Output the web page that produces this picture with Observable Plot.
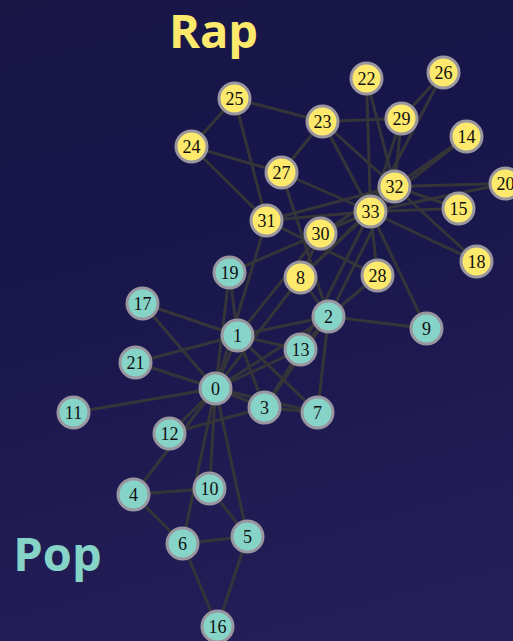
<!DOCTYPE html>
<html>
<head>
<meta charset="utf-8">
<script src="https://cdn.jsdelivr.net/npm/d3@7"></script>
<script src="https://cdn.jsdelivr.net/npm/@observablehq/plot@0.6"></script>
<style>
  html, body { margin: 0; padding: 0; }
  body {
    width: 513px; height: 641px; overflow: hidden;
    background: linear-gradient(165deg, #1a1747 0%, #17154a 30%, #1f1b52 65%, #261e5a 100%);
  }
  #chart svg { display: block; background: transparent; }
</style>
</head>
<body>
<div id="chart"></div>
<script>
// Node ids, layout coordinates (layout space, y down) and group
const nodeIds = [0,1,2,3,4,5,6,7,8,9,10,11,12,13,14,15,16,17,18,19,20,21,22,23,24,25,26,27,28,29,30,31,32,33];
const nodeX = [215,237,328,264,133,247,182,317,300,426,209,73,169,300,466,458,217,142,476,229,505,135,366,322,191,234,443,281,377,401,320,266,394,370];
const nodeY = [388,335,316,407,494,536,543,412,277,328,488,412,433,349,136,208,626,303,261,272,183,362,78,121,146,98,72,172,275,118,233,220,186,211];
const nodeGroup = ["Pop","Pop","Pop","Pop","Pop","Pop","Pop","Pop","Rap","Pop","Pop","Pop","Pop","Pop","Rap","Rap","Pop","Pop","Rap","Pop","Rap","Pop","Rap","Rap","Rap","Rap","Rap","Rap","Rap","Rap","Rap","Rap","Rap","Rap"];

// Edges (source[i] -> target[i])
const edgeSource = [
  0,0,0,0,0,0,0,0,0,0,0,0,0,0,0,0,
  1,1,1,1,1,1,1,1,
  2,2,2,2,2,2,2,2,
  3,3,3,
  4,4,
  5,5,5,
  6,
  8,8,8,
  9,13,14,14,15,15,18,18,19,20,20,22,22,
  23,23,23,23,23,
  24,24,24,
  25,26,26,27,28,28,29,29,30,30,31,31,32];
const edgeTarget = [
  1,2,3,4,5,6,7,8,10,11,12,13,17,19,21,31,
  2,3,7,13,17,19,21,30,
  3,7,8,9,13,27,28,32,
  7,12,13,
  6,10,
  6,10,16,
  16,
  30,32,33,
  33,33,32,33,32,33,32,33,33,32,33,32,33,
  25,27,29,32,33,
  25,27,31,
  31,29,33,33,31,33,32,33,32,33,32,33,33];

// Group annotations
const groupNames = ["Rap", "Pop"];
const groupLabelX = [213, 57];
const groupLabelY = [32, 555];

const colors = { Pop: "#86d4c8", Rap: "#fde96b" };

const nodes = nodeIds.map((id, i) => ({ id, x: nodeX[i], y: nodeY[i], group: nodeGroup[i] }));
const edges = edgeSource.map((s, i) => ({ s: nodes[s], t: nodes[edgeTarget[i]] }));
const groupLabels = groupNames.map((g, i) => ({ g, x: groupLabelX[i], y: groupLabelY[i] }));

const chart = Plot.plot({
  width: 513,
  height: 641,
  margin: 0,
  x: { domain: [0, 513], axis: null },
  y: { domain: [0, 641], range: [0, 641], axis: null },
  color: { domain: ["Pop", "Rap"], range: [colors.Pop, colors.Rap] },
  style: { background: "transparent" },
  marks: [
    Plot.link(edges, {
      x1: d => d.s.x, y1: d => d.s.y, x2: d => d.t.x, y2: d => d.t.y,
      stroke: "#363638", strokeWidth: 3, strokeOpacity: 0.95
    }),
    Plot.dot(nodes, {
      x: "x", y: "y", r: 15.5, fill: "group",
      stroke: "#9a96a0", strokeWidth: 3
    }),
    Plot.text(nodes, {
      x: "x", y: "y", text: d => String(d.id),
      fill: "#111", fontSize: 18, fontFamily: "Liberation Serif", dy: 1
    }),
    Plot.text(groupLabels, {
      x: "x", y: "y", text: "g", fill: d => colors[d.g],
      fontSize: 47, fontWeight: "bold", fontFamily: "Open Sans"
    })
  ]
});
document.getElementById("chart").appendChild(chart);
</script>
</body>
</html>
